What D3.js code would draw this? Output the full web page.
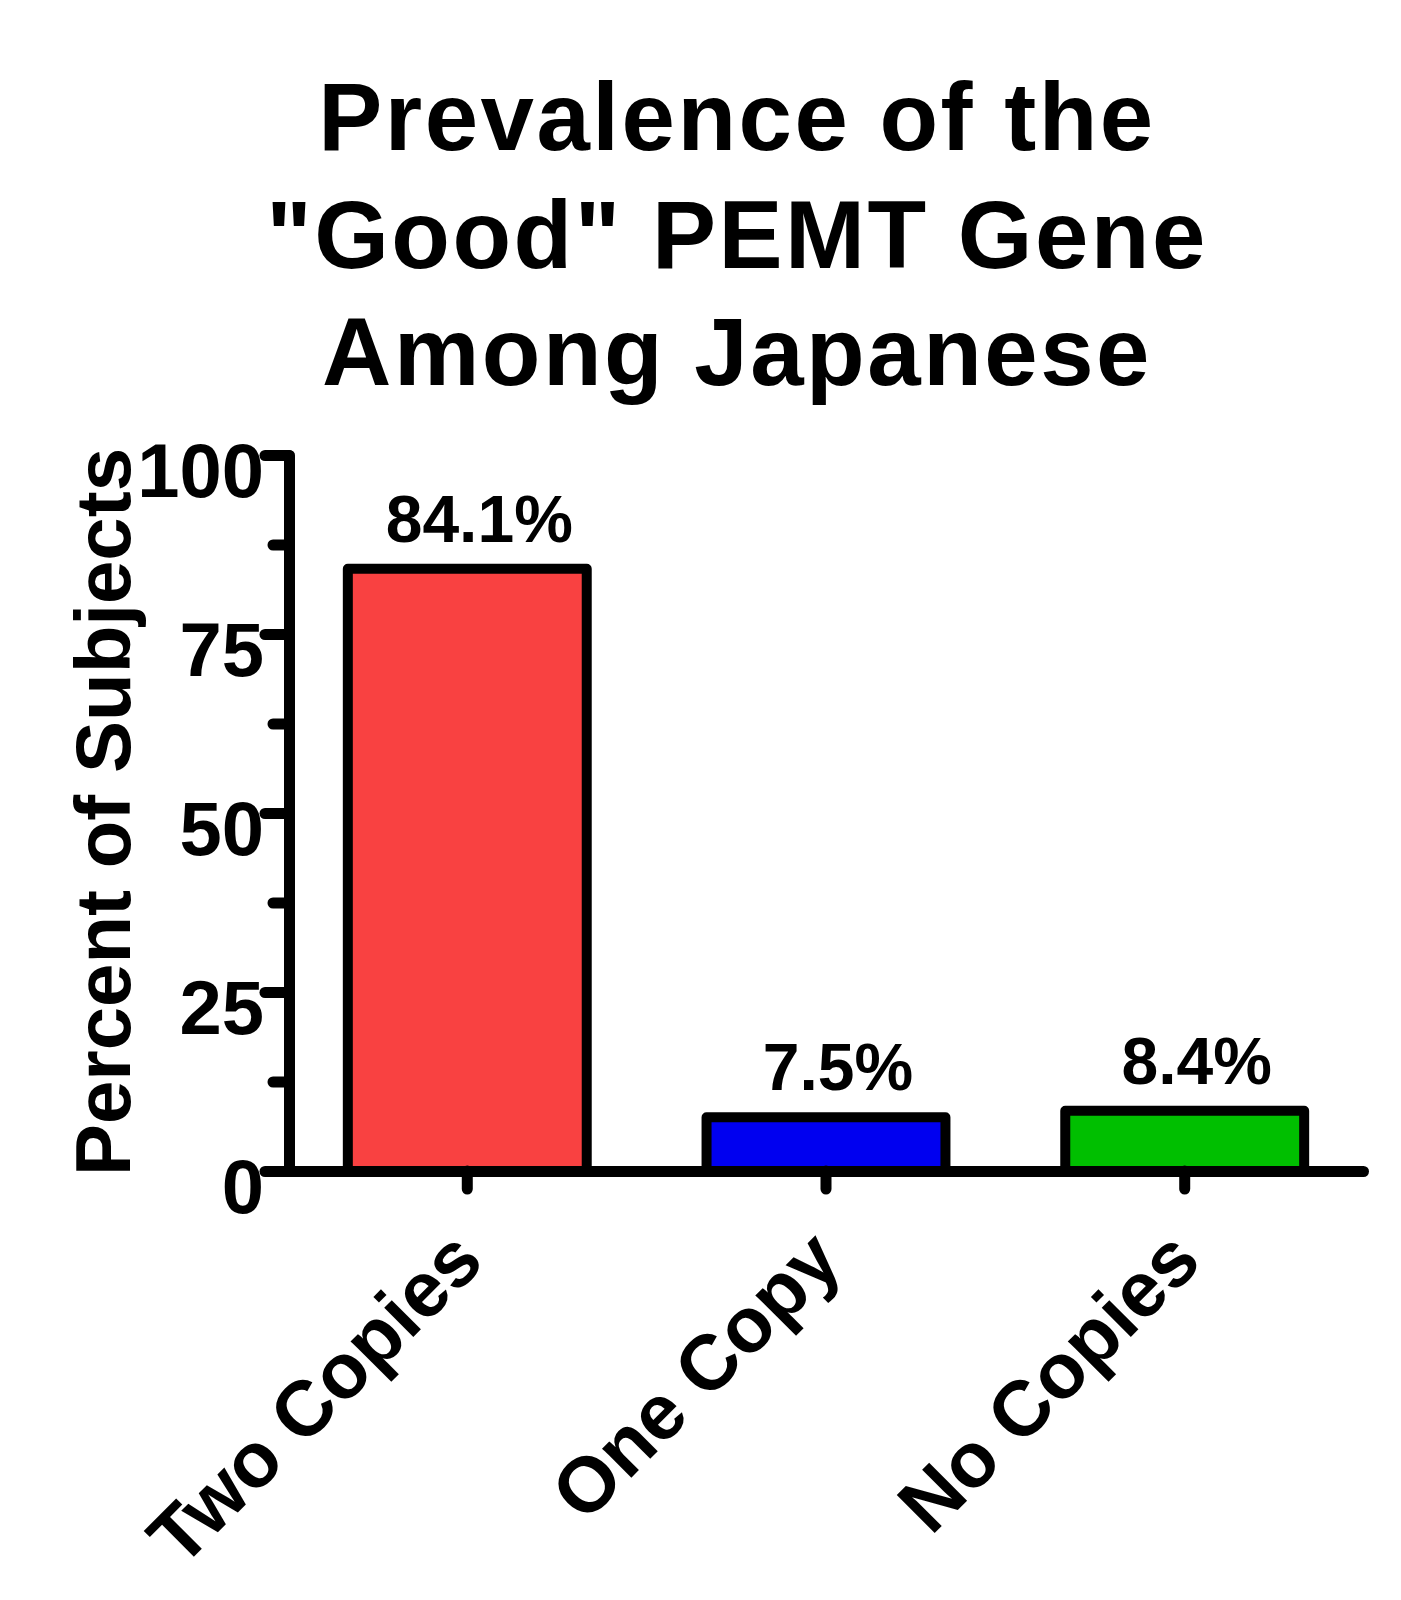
<!DOCTYPE html>
<html>
<head>
<meta charset="utf-8">
<script src="https://cdn.jsdelivr.net/npm/d3@7"></script>
<style>
  html, body { margin: 0; padding: 0; background: #fff; }
  svg { display: block; }
  text { font-family: "Liberation Sans", Arial, sans-serif; font-weight: bold; fill: #000; }
</style>
</head>
<body>
<script>
const categories = ["Two Copies", "One Copy", "No Copies"];
const values = [84.1, 7.5, 8.4];
const valueLabels = ["84.1%", "7.5%", "8.4%"];
const barColors = ["#F94141", "#0000F0", "#00BF00"];
const yTicks = [0, 25, 50, 75, 100];
const yMinorTicks = [12.5, 37.5, 62.5, 87.5];
const titleLines = ["Prevalence of the", "\"Good\" PEMT Gene", "Among Japanese"];
const yTitle = "Percent of Subjects";

const W = 1401, H = 1600;
const svg = d3.select("body").append("svg").attr("width", W).attr("height", H);
svg.append("rect").attr("width", W).attr("height", H).attr("fill", "#fff");

const x = d3.scaleBand().domain(categories).range([289, 1363])
  .paddingInner(0.334).paddingOuter(0.164);
const y = d3.scaleLinear().domain([0, 100]).range([1171, 455]);

// Title
svg.append("g").selectAll("text").data(titleLines).join("text")
  .attr("x", 737).attr("y", (d, i) => 150 + i * 117.5)
  .attr("text-anchor", "middle").attr("font-size", 96)
  .attr("letter-spacing", "2.5px")
  .text(d => d);

// Bars
svg.append("g").selectAll("rect").data(values).join("rect")
  .attr("x", (d, i) => x(categories[i]))
  .attr("width", x.bandwidth())
  .attr("y", d => y(d))
  .attr("height", d => y(0) - y(d))
  .attr("fill", (d, i) => barColors[i])
  .attr("stroke", "#000").attr("stroke-width", 10)
  .attr("stroke-linejoin", "round");

// Value labels
svg.append("g").selectAll("text").data(values).join("text")
  .attr("x", (d, i) => x(categories[i]) + x.bandwidth() / 2 + 12)
  .attr("y", d => y(d) - 27)
  .attr("text-anchor", "middle").attr("font-size", 66)
  .text((d, i) => valueLabels[i]);

// Y axis minor ticks
const gyMinor = svg.append("g").attr("transform", "translate(289,0)")
  .call(d3.axisLeft(y).tickValues(yMinorTicks).tickSize(16).tickSizeOuter(0).tickFormat(""));
gyMinor.select(".domain").remove();

// Y axis major
const gy = svg.append("g").attr("transform", "translate(289,0)")
  .call(d3.axisLeft(y).tickValues(yTicks).tickSize(24).tickSizeOuter(0).tickPadding(1));
gy.selectAll("text")
  .attr("font-size", 76).attr("font-family", "Liberation Sans, Arial, sans-serif")
  .attr("font-weight", "bold").attr("fill", "#000")
  .attr("y", 14).attr("dy", "0.36em");

// X axis
const gx = svg.append("g").attr("transform", `translate(0,${y(0)})`)
  .call(d3.axisBottom(x).tickSize(18).tickSizeOuter(0).tickFormat(""));

[gy, gyMinor, gx].forEach(g => {
  g.selectAll("line, path").attr("stroke", "#000").attr("stroke-width", 11)
    .attr("stroke-linecap", "round").attr("stroke-linejoin", "round");
});

// X category labels
svg.append("g").selectAll("text").data(categories).join("text")
  .attr("transform", d => `translate(${x(d) + x.bandwidth() / 2 + 19},1264) rotate(-45)`)
  .attr("text-anchor", "end").attr("font-size", 78)
  .text(d => d);

// Y title
svg.append("text")
  .attr("transform", "translate(130,812) rotate(-90)")
  .attr("text-anchor", "middle").attr("font-size", 78)
  .text(yTitle);
</script>
</body>
</html>
